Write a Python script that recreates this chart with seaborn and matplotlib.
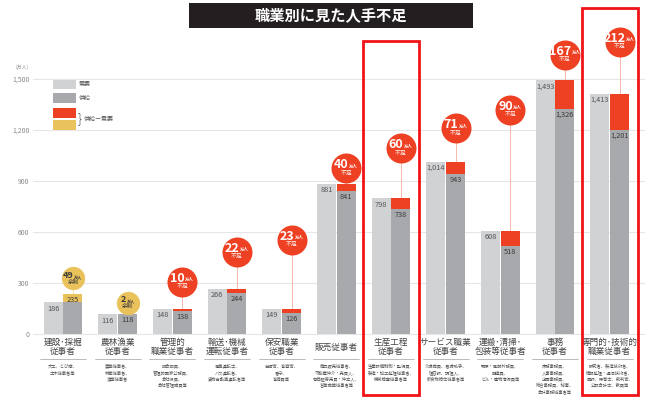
import pandas as pd
import matplotlib
matplotlib.use("Agg")
import matplotlib.pyplot as plt
from matplotlib.patches import Rectangle
import seaborn as sns

# 職業区分（2030年推計, 万人）
occupations = ["建設･採掘\n従事者", "農林漁業\n従事者", "管理的\n職業従事者", "輸送･機械\n運転従事者",
               "保安職業\n従事者", "販売従事者", "生産工程\n従事者", "サービス職業\n従事者",
               "運搬･清掃･\n包装等従事者", "事務\n従事者", "専門的･技術的\n職業従事者"]
examples = ["大工、とび職、\n土木従事者等",
            "農業従事者、\n林業従事者、\n漁業従事者",
            "議会議員、\n管理的国家公務員、\n会社役員、\n会社管理職員等",
            "電車運転士、\nバス運転者、\n貨物自動車運転者等",
            "自衛官、警察官、\n看守、\n警備員等",
            "商品販売従事者、\n不動産仲介・売買人、\n有価証券売買・仲立人、\n営業職業従事者等",
            "生産設備制御・監視員、\n製造・加工処理従事者、\n機械検査従事者等",
            "介護職員、看護助手、\n理容師、調理人、\n飲食物給仕従事者等",
            "郵便・電報外務員、\n配達員、\nビル・建物清掃員等",
            "庶務事務員、\n人事事務員、\n企画事務員、\n総合事務員、秘書、\n会計事務従事者等",
            "研究者、製造技術者、\n情報処理・通信技術者、\n医師、保育士、裁判官、\n公認会計士、教員等"]
demand = [186, 116, 148, 266, 149, 881, 798, 1014, 608, 1493, 1413]
supply = [235, 118, 138, 244, 126, 841, 738, 943, 518, 1326, 1201]
highlight = [6, 10]

# レイアウト（吹き出しの高さ, 枠の上端px）
bubble_y = [327, 184, 308, 484, 553, 975, 1092, 1210, 1318, 1641, 1719]
box_top_px = {6: 40.7, 10: 8.3}

C_DEMAND = "#d1d2d4"
C_SUPPLY = "#a7a9ac"
C_SHORT = "#ee4124"
C_SURPLUS = "#e9c25c"

sns.set_style("white")
plt.rcParams["font.family"] = ["Noto Sans CJK JP", "DejaVu Sans"]


# ピクセル -> データ座標
def vx(px):
    return (px - 63) / 54.67


def vy(py):
    return (334 - py) / 0.17


fig = plt.figure(figsize=(6.5, 4.05), dpi=100)
ax = fig.add_axes([33 / 650, 0, 612 / 650, 1])

df = pd.DataFrame({
    "職業": occupations * 2,
    "区分": ["需要"] * len(demand) + ["供給"] * len(supply),
    "万人": demand + supply,
})
sns.barplot(data=df, x="職業", y="万人", hue="区分", order=occupations,
            hue_order=["需要", "供給"], palette=[C_DEMAND, C_SUPPLY],
            width=0.72, gap=0.03, saturation=1, errorbar=None, legend=False,
            linewidth=0, ax=ax)

for i, (d, s) in enumerate(zip(demand, supply)):
    lo, hi = min(d, s), max(d, s)
    short = d > s
    ax.bar(i + 0.18, hi - lo, bottom=lo, width=0.35, color=C_SHORT if short else C_SURPLUS,
           lw=0, zorder=3)

    # 値ラベル
    ax.annotate(f"{d:,}", (i - 0.18, d), xytext=(0, -4.5), textcoords="offset points",
                ha="center", va="center", fontsize=5.3, color="#555555", zorder=4)
    ax.annotate(f"{s:,}", (i + 0.18, s), xytext=(0, -4.5), textcoords="offset points",
                ha="center", va="center", fontsize=5.3, color="#3a3a3a", zorder=4)

    # 吹き出し
    gap_val = hi - lo
    by = bubble_y[i]
    bx = i + 0.18
    if short:
        bcol, tcol, word, s_pt, nfs, mfs, wfs = C_SHORT, "white", "不足", 467, 9, 3.2, 4.2
        dig_w, m_w = 7.1, 4.5
        line_col = "#f6b9ad"
    else:
        bcol, tcol, word, s_pt, nfs, mfs, wfs = C_SURPLUS, "#3a3a3a", "余剰", 280, 6.5, 3.0, 4.0
        dig_w, m_w = 5.0, 4.0
        line_col = "#f3dfa8"
    ax.plot([bx, bx], [hi, by], color=line_col, lw=0.7, zorder=2)
    ax.scatter([bx], [by], s=s_pt, color=bcol, lw=0, zorder=5)
    ndig = len(str(gap_val))
    off = (dig_w * ndig - 2 * m_w) / 2 * 0.72
    ax.annotate(str(gap_val), (bx, by), xytext=(off, 2.6 if short else 2.2), textcoords="offset points",
                ha="right", va="center", fontsize=nfs, fontweight="bold", color=tcol, zorder=6)
    ax.annotate("万人", (bx, by), xytext=(off + 0.3, 1.6 if short else 1.3), textcoords="offset points",
                ha="left", va="center", fontsize=mfs, fontweight="bold", color=tcol, zorder=6)
    ax.annotate(word, (bx, by), xytext=(0, -3.4 if short else -3.0), textcoords="offset points",
                ha="center", va="center", fontsize=wfs, color=tcol, zorder=6)

    # カテゴリ名と職業例
    ax.text(i, vy(347), occupations[i], ha="center", va="center", fontsize=6.2,
            color="#444444", linespacing=1.1)
    ax.plot([i - 0.42, i + 0.42], [vy(359.3)] * 2, color="#a0a0a0", lw=0.5, clip_on=False)
    ax.text(i, vy(363.5), examples[i], ha="center", va="top", fontsize=3.1,
            color="#555555", linespacing=1.35)

# 注目の職業を赤枠で囲む
for i in highlight:
    bottom = vy(395)
    top = vy(box_top_px[i])
    ax.add_patch(Rectangle((i - 0.51, bottom), 1.02, top - bottom, fill=False,
                           ec="#f01419", lw=2, clip_on=False, zorder=8))

# 凡例
legend_items = [(80, 89.3, C_DEMAND), (93.3, 103.3, C_SUPPLY), (108, 118, C_SHORT), (120, 130, C_SURPLUS)]
for top_px, bot_px, col in legend_items:
    ax.add_patch(Rectangle((vx(53.3), vy(bot_px)), vx(76) - vx(53.3), vy(top_px) - vy(bot_px),
                           color=col, lw=0, zorder=4))
ax.text(vx(79), vy(84.7), "需要", fontsize=4.3, color="#555555", va="center")
ax.text(vx(79), vy(98.3), "供給", fontsize=4.3, color="#555555", va="center")
ax.text(vx(77.5), vy(118.5), "}", fontsize=9, color="#555555", va="center", fontweight="light")
ax.text(vx(84), vy(119), "供給ー需要", fontsize=4.3, color="#555555", va="center")

# 軸
yticks = [0, 300, 600, 900, 1200, 1500]
ax.set_yticks(yticks)
ax.set_yticklabels([f"{v:,}" for v in yticks])
ax.tick_params(axis="y", length=0, pad=2.5, labelsize=5, labelcolor="#8a8a8a")
ax.set_xticks([])
ax.set_xlabel("")
ax.set_ylabel("")
ax.set_xlim(vx(33), vx(645))
ax.set_ylim(vy(405), vy(0))
ax.yaxis.grid(True, color="#e6e6e6", lw=0.8)
ax.set_axisbelow(True)
sns.despine(ax=ax, left=True, bottom=True)
fig.text(22 / 650, 1 - 67 / 405, "(万人)", fontsize=3.5, color="#8a8a8a", ha="center", va="center")

# タイトル
fig.add_artist(Rectangle((189.3 / 650, 1 - 28.3 / 405), (472.7 - 189.3) / 650, 25 / 405,
                         transform=fig.transFigure, color="#231f20", lw=0))
fig.text(331 / 650, 1 - 16 / 405, "職業別に見た人手不足", color="white", fontsize=11,
         fontweight="bold", ha="center", va="center")

fig.savefig("out.png", dpi=100)
